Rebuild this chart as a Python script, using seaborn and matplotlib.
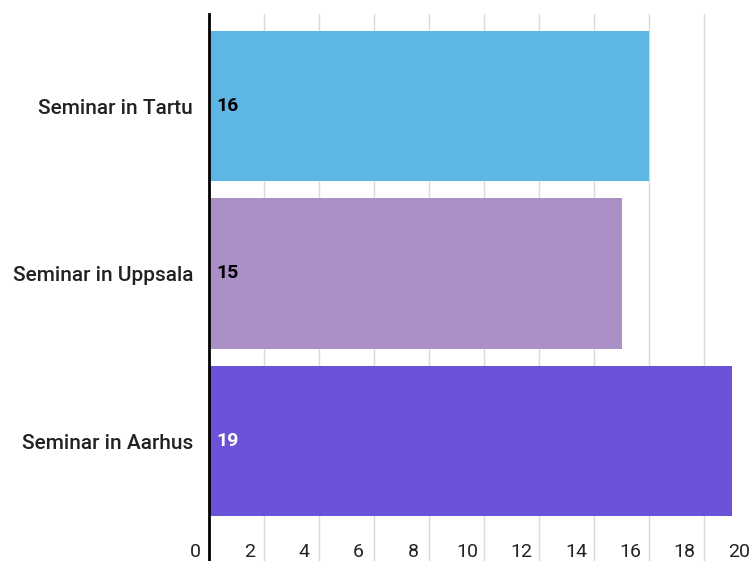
import matplotlib
matplotlib.use("Agg")
import matplotlib.pyplot as plt
import matplotlib.transforms as mtransforms
import seaborn as sns
import pandas as pd

categories = ["Seminar in Tartu", "Seminar in Uppsala", "Seminar in Aarhus"]
values = [16, 15, 19]
colors = ["#5DB6E4", "#AB90C7", "#6B52D8"]
label_colors = ["#000000", "#000000", "#FFFFFF"]
xticks = [0, 2, 4, 6, 8, 10, 12, 14, 16, 18, 20]

sns.set_theme(style="white")
plt.rcParams["font.family"] = ["Roboto", "DejaVu Sans"]

W, H, DPI = 756, 561, 100
fig = plt.figure(figsize=(W / DPI, H / DPI), dpi=DPI)

# axes spans x = 0..20 across 209..759 px, from 14 px below the top to the bottom edge
x0, x20 = 209, 759
top, bottom = 14, 561
ax = fig.add_axes([x0 / W, (H - bottom) / H, (x20 - x0) / W, (bottom - top) / H])

df = pd.DataFrame({"category": categories, "value": values})
sns.barplot(data=df, x="value", y="category", hue="category",
            palette=colors, legend=False, width=0.9, saturation=1,
            orient="h", ax=ax, linewidth=0)

pitch = 167.5
ax.set_xlim(0, 20)
ax.set_ylim(2 + (bottom - 441) / pitch, -(106 - top) / pitch)

ax.set_xticks(xticks)
ax.set_xticklabels([str(t) for t in xticks])
ax.set_xlabel("")
ax.set_ylabel("")

ax.grid(axis="x", color="#DADADA", linewidth=1)
ax.grid(axis="y", visible=False)
ax.set_axisbelow(True)

for side in ["top", "right", "bottom"]:
    ax.spines[side].set_visible(False)
ax.spines["left"].set_color("#000000")
ax.spines["left"].set_linewidth(2)

ax.tick_params(axis="x", length=0, labelsize=14, labelcolor="#222222", pad=-13)
ax.tick_params(axis="y", length=0, labelsize=15, labelcolor="#222222", pad=11.5)

# x tick labels sit left of their gridlines, drifting a little further each step
for k, lab in enumerate(ax.get_xticklabels()):
    shift = mtransforms.ScaledTranslation(-(13.5 + 0.65 * k) / DPI, 0, fig.dpi_scale_trans)
    lab.set_transform(lab.get_transform() + shift)
for lab in ax.get_yticklabels():
    lab.set_fontweight("medium")

# value labels at the base of each bar
for i, (v, c) in enumerate(zip(values, label_colors)):
    ax.annotate(str(v), xy=(0, i), xytext=(5, 0), textcoords="offset points",
                ha="left", va="center", fontsize=14, fontweight="bold", color=c)

fig.savefig("out.png", dpi=DPI)
